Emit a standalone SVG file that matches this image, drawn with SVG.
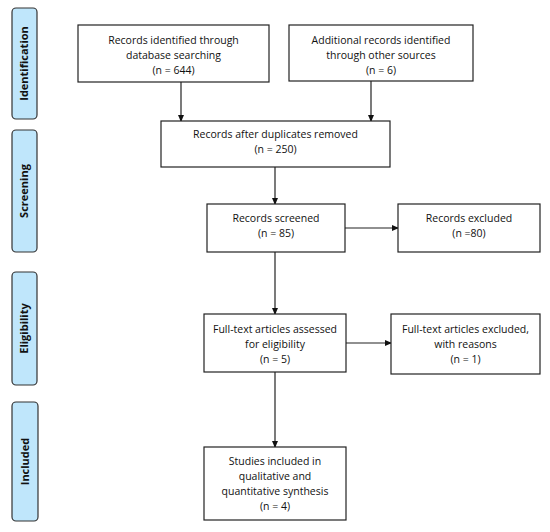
<svg xmlns="http://www.w3.org/2000/svg" width="550" height="532" viewBox="0 0 550 532">
<style>
.box{fill:#fff;stroke:#222;stroke-width:1.2}
.side{fill:#bfe6fb;stroke:#333;stroke-width:1.2}
.t{font-family:"Open Sans","DejaVu Sans",sans-serif;font-size:10.5px;fill:#111;text-anchor:middle}
.s{font-family:"Open Sans","DejaVu Sans",sans-serif;font-size:11px;font-weight:bold;fill:#111;text-anchor:middle}
.c{stroke:#222;stroke-width:1.2;fill:none;marker-end:url(#ah)}
</style>
<defs>
<marker id="ah" markerWidth="7" markerHeight="6" refX="6" refY="3" orient="auto" markerUnits="userSpaceOnUse">
<path d="M0,0 L7,3 L0,6 Z" fill="#111"/>
</marker>
</defs>
<rect width="550" height="532" fill="#fff"/>
<g id="stage-identification"><rect class="side" x="12" y="8" width="25" height="111" rx="4"/><text class="s" transform="translate(28,63.5) rotate(-90)">Identification</text></g>
<g id="stage-screening"><rect class="side" x="12" y="130" width="25" height="122" rx="4"/><text class="s" transform="translate(28,191) rotate(-90)">Screening</text></g>
<g id="stage-eligibility"><rect class="side" x="12" y="272" width="25" height="113" rx="4"/><text class="s" transform="translate(28,328.5) rotate(-90)">Eligibility</text></g>
<g id="stage-included"><rect class="side" x="12" y="402" width="26" height="119" rx="4"/><text class="s" transform="translate(29,461.5) rotate(-90)">Included</text></g>
<g id="connectors">
<line class="c" x1="181" y1="82" x2="181" y2="121"/>
<line class="c" x1="371" y1="81" x2="371" y2="121"/>
<line class="c" x1="275" y1="167" x2="275" y2="204"/>
<line class="c" x1="345" y1="228" x2="398" y2="228"/>
<line class="c" x1="275" y1="252" x2="275" y2="314"/>
<line class="c" x1="346" y1="343" x2="391" y2="343"/>
<line class="c" x1="275" y1="372" x2="275" y2="447"/>
</g>
<g id="db"><rect class="box" x="78" y="25" width="191" height="57"/><text class="t" x="173.5" y="44">Records identified through</text><text class="t" x="173.5" y="59">database searching</text><text class="t" x="173.5" y="74">(n = 644)</text></g>
<g id="other"><rect class="box" x="289" y="25" width="184" height="56"/><text class="t" x="381" y="44">Additional records identified</text><text class="t" x="381" y="59">through other sources</text><text class="t" x="381" y="74">(n = 6)</text></g>
<g id="dedup"><rect class="box" x="161" y="121" width="229" height="46"/><text class="t" x="275.5" y="138">Records after duplicates removed</text><text class="t" x="275.5" y="153">(n = 250)</text></g>
<g id="screened"><rect class="box" x="207" y="204" width="138" height="48"/><text class="t" x="276" y="222">Records screened</text><text class="t" x="276" y="237">(n = 85)</text></g>
<g id="excluded"><rect class="box" x="398" y="204" width="142" height="48"/><text class="t" x="469" y="222">Records excluded</text><text class="t" x="469" y="237">(n =80)</text></g>
<g id="fulltext"><rect class="box" x="204" y="314" width="142" height="58"/><text class="t" x="275" y="333">Full-text articles assessed</text><text class="t" x="275" y="348">for eligibility</text><text class="t" x="275" y="363">(n = 5)</text></g>
<g id="ftexcluded"><rect class="box" x="391" y="314" width="149" height="60"/><text class="t" x="465.5" y="333">Full-text articles excluded,</text><text class="t" x="465.5" y="348">with reasons</text><text class="t" x="465.5" y="363">(n = 1)</text></g>
<g id="included"><rect class="box" x="204" y="447" width="142" height="73"/><text class="t" x="275" y="465">Studies included in</text><text class="t" x="275" y="480">qualitative and</text><text class="t" x="275" y="495">quantitative synthesis</text><text class="t" x="275" y="510">(n = 4)</text></g>
</svg>
